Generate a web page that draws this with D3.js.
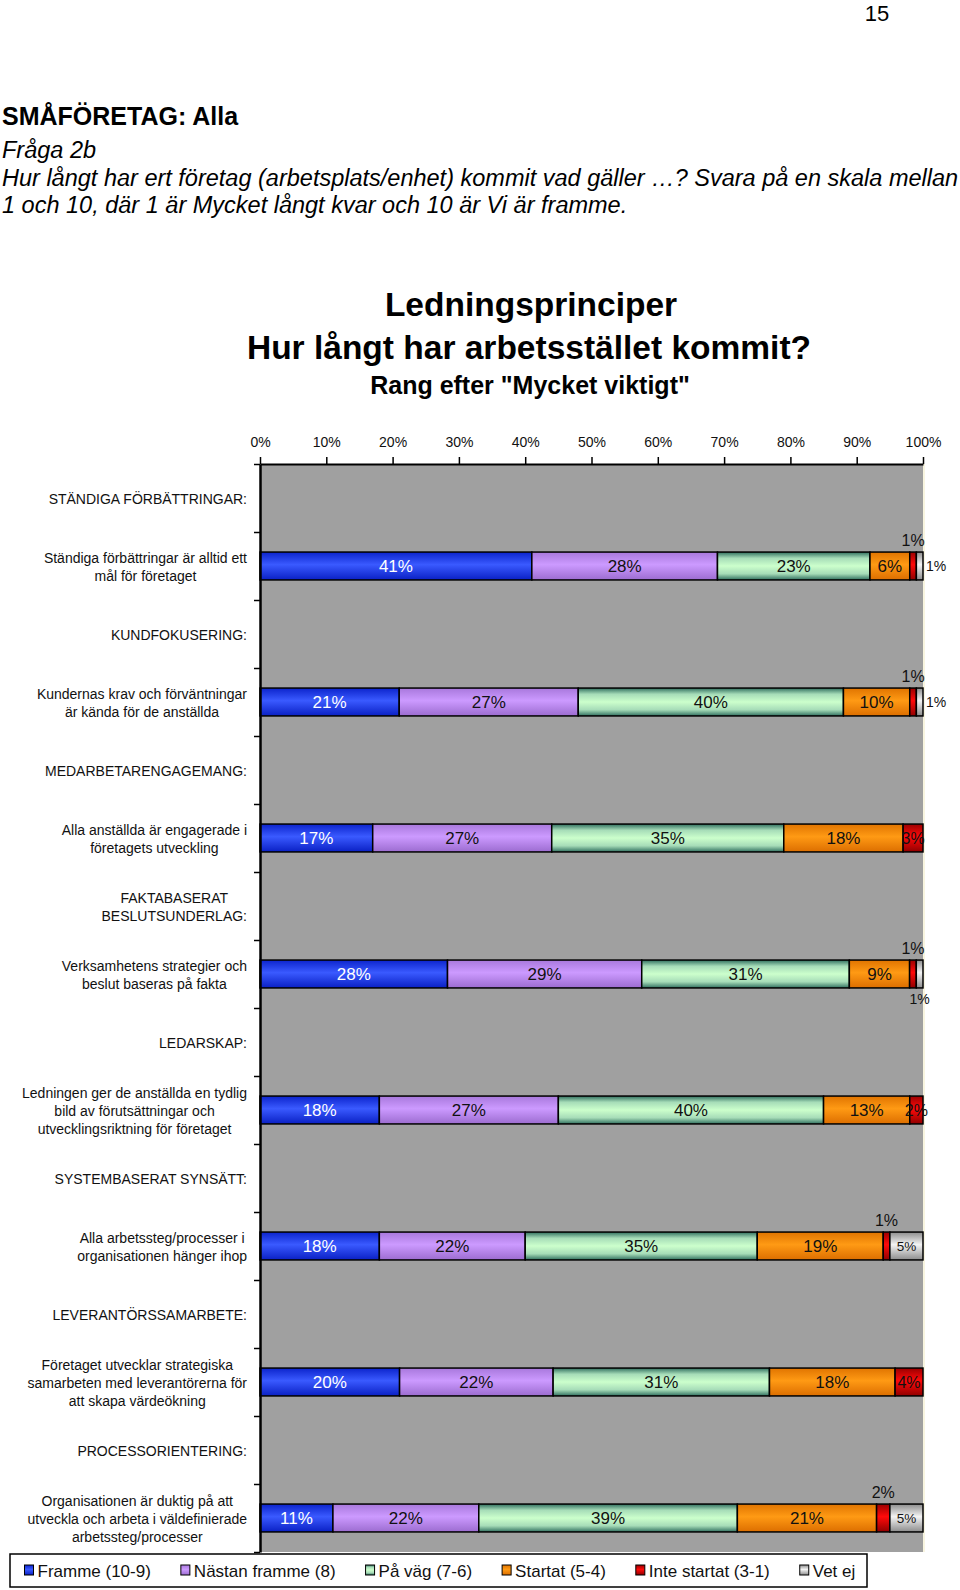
<!DOCTYPE html>
<html><head><meta charset="utf-8">
<script src="https://cdn.jsdelivr.net/npm/d3@7"></script>
<style>
body{margin:0;background:#fff}
svg{display:block}
text{font-family:"Liberation Sans",Arial,Helvetica,sans-serif}
</style>
</head><body>
<svg id="c" width="960" height="1590"></svg>
<script>
// ---------- DATA ----------
const categories = [
  "STÄNDIGA FÖRBÄTTRINGAR:",
  "Ständiga förbättringar är alltid ett\nmål för företaget",
  "KUNDFOKUSERING:",
  "Kundernas krav och förväntningar\när kända för de anställda",
  "MEDARBETARENGAGEMANG:",
  "Alla anställda är engagerade i\nföretagets utveckling",
  "FAKTABASERAT\nBESLUTSUNDERLAG:",
  "Verksamhetens strategier och\nbeslut baseras på fakta",
  "LEDARSKAP:",
  "Ledningen ger de anställda en tydlig\nbild av förutsättningar och\nutvecklingsriktning för företaget",
  "SYSTEMBASERAT SYNSÄTT:",
  "Alla arbetssteg/processer i\norganisationen hänger ihop",
  "LEVERANTÖRSSAMARBETE:",
  "Företaget utvecklar strategiska\nsamarbeten med leverantörerna för\natt skapa värdeökning",
  "PROCESSORIENTERING:",
  "Organisationen är duktig på att\nutveckla och arbeta i väldefinierade\narbetssteg/processer"
];
const seriesNames = ["Framme (10-9)", "Nästan framme (8)", "På väg (7-6)", "Startat (5-4)", "Inte startat (3-1)", "Vet ej"];
const framme      = [null,41,null,21,null,17,null,28,null,18,null,18,null,20,null,11];
const nastanFramme= [null,28,null,27,null,27,null,29,null,27,null,22,null,22,null,22];
const paVag       = [null,23,null,40,null,35,null,31,null,40,null,35,null,31,null,39];
const startat     = [null, 6,null,10,null,18,null, 9,null,13,null,19,null,18,null,21];
const inteStartat = [null, 1,null, 1,null, 3,null, 1,null, 2,null, 1,null, 4,null, 2];
const vetEj       = [null, 1,null, 1,null, 0,null, 1,null, 0,null, 5,null, 0,null, 5];
const xTickValues = [0,10,20,30,40,50,60,70,80,90,100];
const xTickLabels = ["0%","10%","20%","30%","40%","50%","60%","70%","80%","90%","100%"];
// where small labels were moved by the original chart (category index - series index)
const labelPlacement = {"1-4":"above","1-5":"right","3-4":"above","3-5":"right","7-4":"above","7-5":"below","11-4":"above","15-4":"above"};

// ---------- STYLE ----------
const gradStops = [
  [["0","#0c24cc"],["0.45","#3a5aff"],["1","#0a20c4"]],
  [["0","#a878dc"],["0.45","#cc9aff"],["1","#9c6cd0"]],
  [["0","#2f6e5e"],["0.22","#a6dcb8"],["0.5","#ccffcc"],["0.78","#a6dcb8"],["1","#2f6e5e"]],
  [["0","#e07400"],["0.45","#ff9a14"],["1","#dc6e00"]],
  [["0","#9a0000"],["0.45","#ff0a0a"],["1","#900000"]],
  [["0","#8c8c8c"],["0.45","#f4f4f4"],["1","#8c8c8c"]]
];
const labelColor = ["#ffffff","#111","#111","#111","#111","#111"];
const labelSize = [17,17,17,17,16,13.5];

const svg = d3.select("#c");
svg.append("rect").attr("width",960).attr("height",1590).attr("fill","#fff");
const defs = svg.append("defs");
gradStops.forEach((st,i)=>{
  const g = defs.append("linearGradient").attr("id","g"+i).attr("x1",0).attr("y1",0).attr("x2",0).attr("y2",1);
  st.forEach(s=>g.append("stop").attr("offset",s[0]).attr("stop-color",s[1]));
});

// ---------- HEADER TEXT ----------
svg.append("text").attr("x",877).attr("y",21).attr("text-anchor","middle").attr("font-size",22).text("15");
svg.append("text").attr("x",2).attr("y",125).attr("font-size",25).attr("font-weight","bold").text("SMÅFÖRETAG: Alla");
svg.append("text").attr("x",2).attr("y",158).attr("font-size",23.5).attr("font-style","italic").text("Fråga 2b");
svg.append("text").attr("x",2).attr("y",186).attr("font-size",23.5).attr("font-style","italic")
  .text("Hur långt har ert företag (arbetsplats/enhet) kommit vad gäller …? Svara på en skala mellan");
svg.append("text").attr("x",2).attr("y",213).attr("font-size",23.5).attr("font-style","italic")
  .text("1 och 10, där 1 är Mycket långt kvar och 10 är Vi är framme.");
svg.append("text").attr("x",531).attr("y",316).attr("text-anchor","middle").attr("font-size",33.5).attr("font-weight","bold").text("Ledningsprinciper");
svg.append("text").attr("x",529).attr("y",359).attr("text-anchor","middle").attr("font-size",33.5).attr("font-weight","bold").text("Hur långt har arbetsstället kommit?");
svg.append("text").attr("x",530).attr("y",394).attr("text-anchor","middle").attr("font-size",25).attr("font-weight","bold").text('Rang efter "Mycket viktigt"');

// ---------- CHART ----------
const L = 260, R = 923, T = 464, B = 1552;
const x = d3.scaleLinear().domain([0,100]).range([L,R]);
const yCat = d3.scaleBand().domain(d3.range(categories.length)).range([T,B]).padding(0);
const yBar = d3.scaleBand().domain(d3.range(categories.length)).range([T,B]).paddingInner(0.59).paddingOuter(0.295);
const yLin = d3.scaleLinear().domain([0,categories.length]).range([T,B]);

svg.append("rect").attr("x",L).attr("y",T).attr("width",R-L).attr("height",B-T).attr("fill","#a0a0a0");
svg.append("line").attr("x1",R+1).attr("x2",R+1).attr("y1",T).attr("y2",B).attr("stroke","#f6f2d6").attr("stroke-width",1.5);

const seriesArrays = [framme,nastanFramme,paVag,startat,inteStartat,vetEj];
const keys = d3.range(seriesNames.length);
const rows = categories.map((c,i)=>({idx:i, vals:seriesArrays.map(a=>a[i])})).filter(r=>r.vals[0]!==null);
const table = rows.map(r=>{const o={idx:r.idx}; keys.forEach(k=>o[k]=r.vals[k]); return o;});
const stack = d3.stack().keys(keys).offset(d3.stackOffsetExpand);
const stacked = stack(table);

const gBars = svg.append("g");
stacked.forEach((s,k)=>{
  gBars.selectAll(null).data(s.filter(d=>d[1]-d[0]>0)).enter().append("rect")
    .attr("x",d=>x(d[0]*100)).attr("width",d=>x(d[1]*100)-x(d[0]*100))
    .attr("y",d=>yBar(d.data.idx)).attr("height",yBar.bandwidth())
    .attr("fill","url(#g"+k+")").attr("stroke","#000").attr("stroke-width",1.5);
});
// value labels
const gLab = svg.append("g");
stacked.forEach((s,k)=>{
  s.forEach(d=>{
    const v = d.data[k];
    if(!v) return;
    const place = labelPlacement[d.data.idx+"-"+k] || "center";
    const cx = x((d[0]+d[1])/2*100);
    const cy = yBar(d.data.idx)+yBar.bandwidth()/2;
    const t = gLab.append("text").attr("font-size",labelSize[k]).attr("dy","0.36em").text(v+"%");
    if(place==="center"){ t.attr("x",cx).attr("y",cy).attr("text-anchor","middle").attr("fill",labelColor[k]); }
    else if(place==="above"){ t.attr("x",cx).attr("y",cy-26).attr("text-anchor","middle").attr("fill","#111").attr("font-size",16); }
    else if(place==="below"){ t.attr("x",cx).attr("y",cy+25).attr("text-anchor","middle").attr("fill","#111").attr("font-size",14); }
    else if(place==="right"){ t.attr("x",x(d[1]*100)+3).attr("y",cy).attr("text-anchor","start").attr("fill","#111").attr("font-size",14); }
  });
});

// axes
const xAxis = svg.append("g").attr("transform",`translate(0,${T})`)
  .call(d3.axisTop(x).tickValues(xTickValues).tickFormat((d,i)=>xTickLabels[i]).tickSize(7).tickSizeOuter(0).tickPadding(10));
xAxis.selectAll("text").attr("font-size",14).attr("fill","#111").style("font-family",'"Liberation Sans",Arial,sans-serif');
xAxis.select(".domain").attr("stroke","#000").attr("stroke-width",2);
xAxis.selectAll(".tick line").attr("stroke","#000").attr("stroke-width",1.5);

const yAxis = svg.append("g").attr("transform",`translate(${L},0)`)
  .call(d3.axisLeft(yLin).tickValues(d3.range(categories.length+1)).tickFormat("").tickSize(6).tickSizeOuter(0));
yAxis.select(".domain").attr("stroke","#000").attr("stroke-width",2.5);
yAxis.selectAll(".tick line").attr("stroke","#000").attr("stroke-width",1.5);

// category labels
const gCat = svg.append("g").attr("font-size",14).attr("fill","#111");
const lineH = 18.2;
categories.forEach((c,i)=>{
  const lines = c.split("\n");
  const cy = yCat(i)+yCat.bandwidth()/2 + 1;
  const ts = lines.map((ln,j)=>gCat.append("text").attr("y",cy+(j-(lines.length-1)/2)*lineH).attr("dy","0.36em").text(ln));
  const maxW = d3.max(ts,t=>t.node().getComputedTextLength());
  const center = 247 - maxW/2;
  ts.forEach(t=>t.attr("x",center).attr("text-anchor","middle"));
});

// legend
const lg = svg.append("g");
lg.append("rect").attr("x",10).attr("y",1554).attr("width",857).attr("height",33).attr("fill","#fff").attr("stroke","#000").attr("stroke-width",1.5);
let lx = 37.5;
seriesNames.forEach((n,k)=>{
  lg.append("rect").attr("x",lx-13).attr("y",1565).attr("width",9).attr("height",10)
    .attr("fill","url(#g"+k+")").attr("stroke","#000").attr("stroke-width",1);
  const t = lg.append("text").attr("x",lx).attr("y",1571).attr("dy","0.36em").attr("font-size",17).attr("fill","#111").text(n);
  lx += t.node().getComputedTextLength() + 43;
});
</script>
</body></html>
